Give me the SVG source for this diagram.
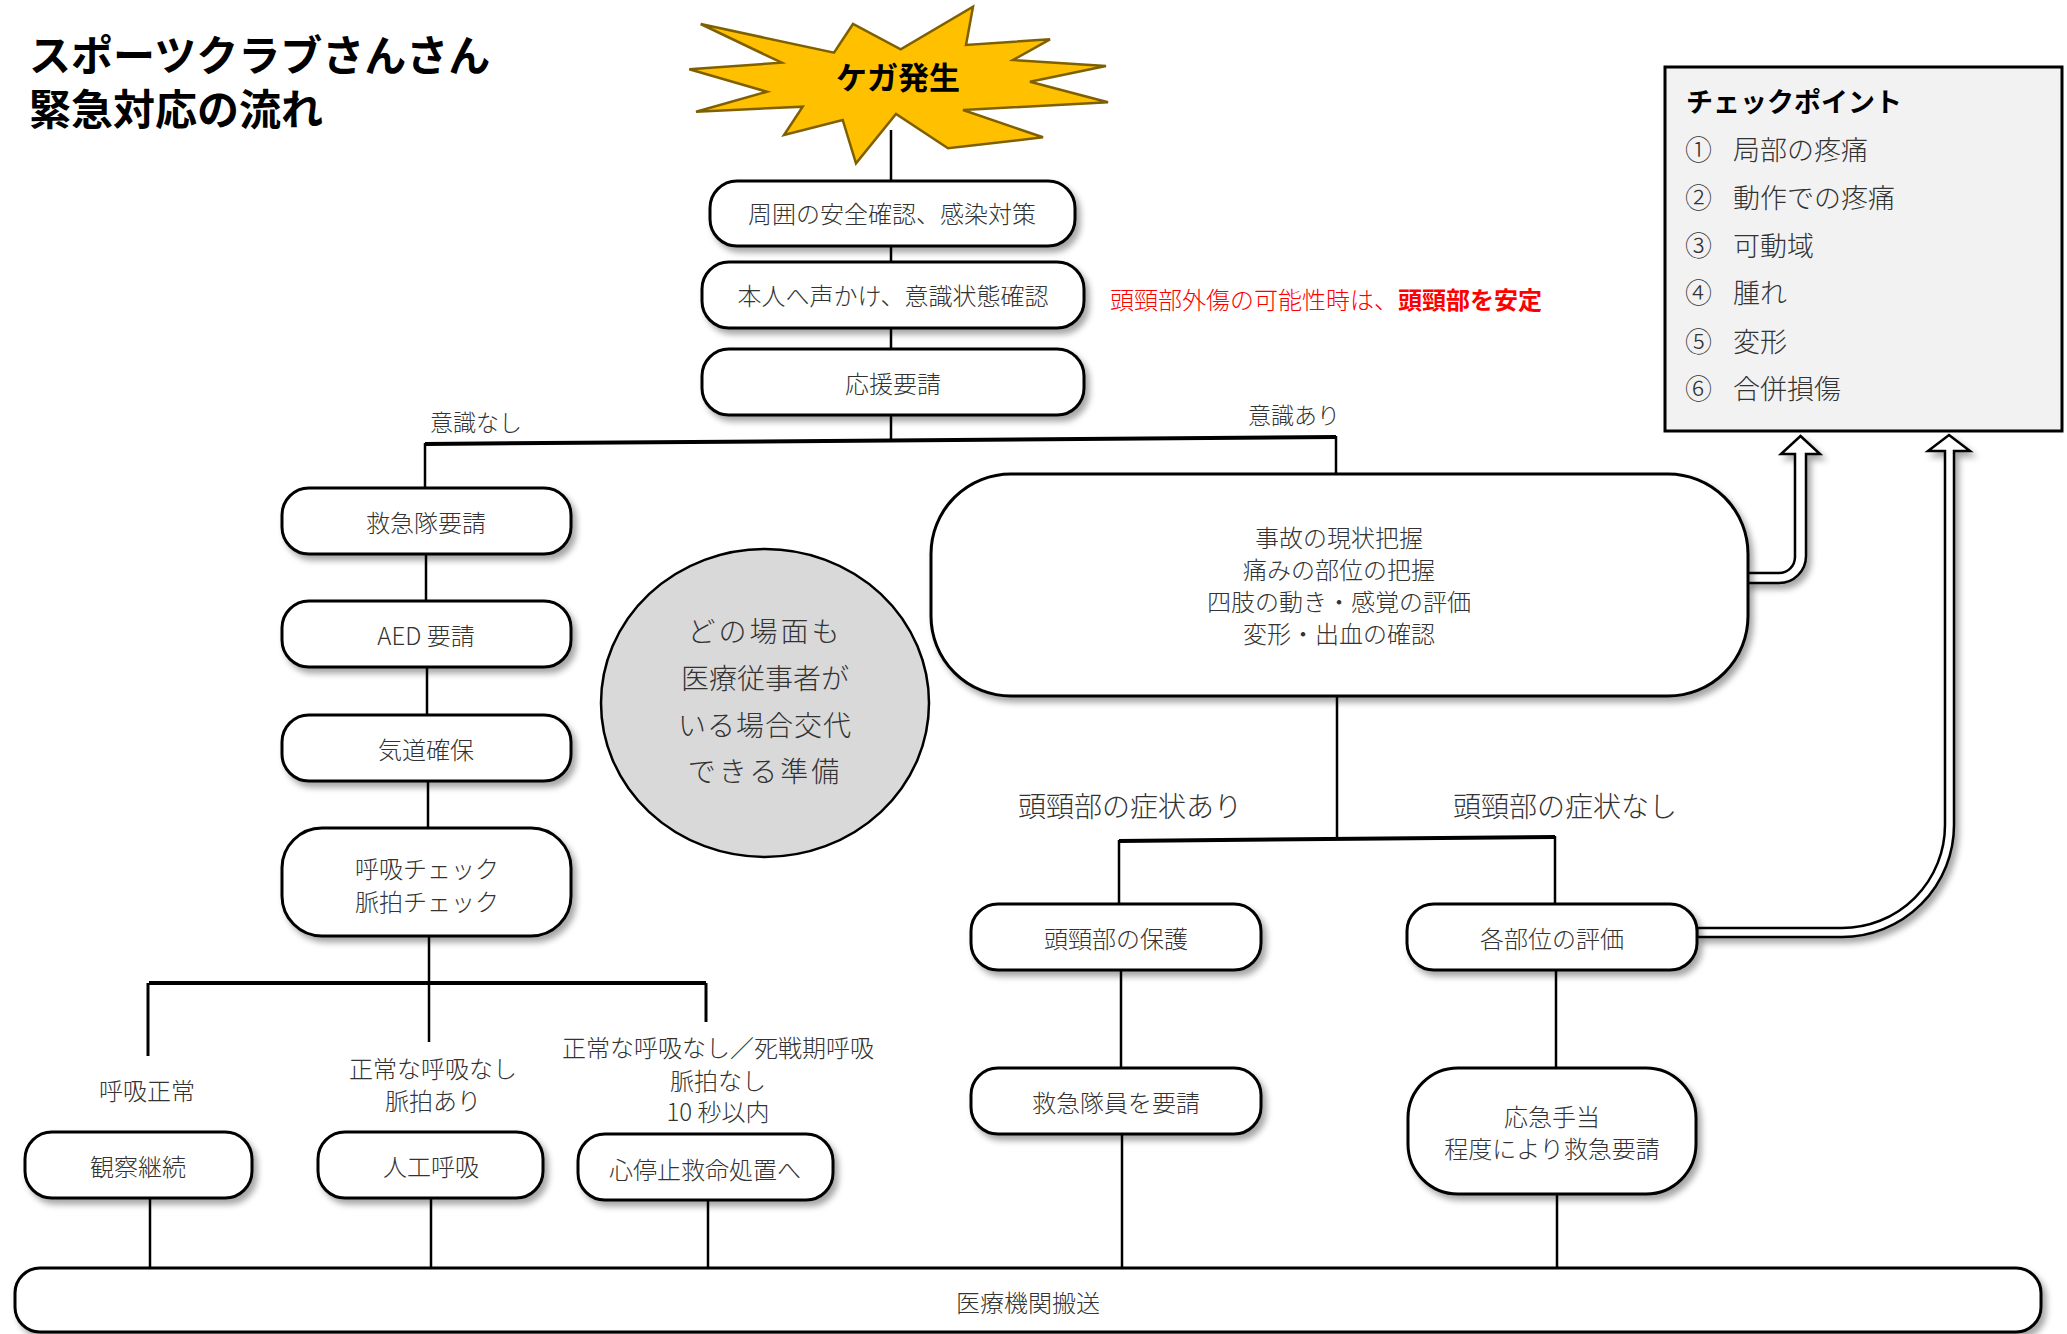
<svg xmlns="http://www.w3.org/2000/svg" width="2067" height="1334" viewBox="0 0 2067 1334">
<defs>
<filter id="sh" x="-10%" y="-20%" width="125%" height="150%">
<feDropShadow dx="4" dy="5" stdDeviation="3" flood-color="#000" flood-opacity="0.35"/>
</filter>
<style>
.box{fill:#fff;stroke:#000;stroke-width:3;filter:url(#sh)}
.t{font-family:"Noto Sans CJK JP","Noto Sans CJK SC",sans-serif;font-size:24px;font-weight:300;fill:#333;text-anchor:middle;dominant-baseline:central}
.lbl{font-family:"Noto Sans CJK JP","Noto Sans CJK SC",sans-serif;font-size:23px;font-weight:300;fill:#333;text-anchor:middle;dominant-baseline:central}
.big{font-size:28px}
.conn line{stroke:#000;stroke-width:2.5}
.conn line.thick{stroke-width:4}
.arrow{fill:#fff;stroke:#000;stroke-width:2.5;stroke-linejoin:miter;filter:url(#sh)}
</style>
</defs>
<rect width="2067" height="1334" fill="#fff"/>

<g id="title">
<text style="font-family:'Noto Sans CJK JP',sans-serif;font-size:42px;font-weight:bold;fill:#000;dominant-baseline:central"><tspan x="29" y="52">スポーツクラブさんさん</tspan><tspan x="29" y="106">緊急対応の流れ</tspan></text>
</g>

<g id="connectors" class="conn">
<line x1="891" y1="130" x2="891" y2="181"/>
<line x1="891" y1="246" x2="891" y2="262"/>
<line x1="891" y1="328" x2="891" y2="349"/>
<line x1="891" y1="415" x2="891" y2="441"/>
<line x1="425" y1="444" x2="1336" y2="437" class="thick"/>
<line x1="425" y1="443" x2="425" y2="488"/>
<line x1="1336" y1="436" x2="1336" y2="474"/>
<line x1="426" y1="554" x2="426" y2="601"/>
<line x1="427" y1="667" x2="427" y2="715"/>
<line x1="428" y1="781" x2="428" y2="828"/>
<line x1="429" y1="936" x2="429" y2="1042"/>
<line x1="149" y1="983" x2="706" y2="983" class="thick"/>
<line x1="148" y1="983" x2="148" y2="1056" class="thick" style="stroke-width:3"/>
<line x1="706" y1="983" x2="706" y2="1022" class="thick" style="stroke-width:3"/>
<line x1="150" y1="1198" x2="150" y2="1268"/>
<line x1="431" y1="1198" x2="431" y2="1268"/>
<line x1="708" y1="1200" x2="708" y2="1268"/>
<line x1="1337" y1="696" x2="1337" y2="840"/>
<line x1="1119" y1="841" x2="1555" y2="837" class="thick"/>
<line x1="1119" y1="840" x2="1119" y2="904"/>
<line x1="1555" y1="836" x2="1555" y2="904"/>
<line x1="1121" y1="970" x2="1121" y2="1068"/>
<line x1="1122" y1="1134" x2="1122" y2="1268"/>
<line x1="1556" y1="970" x2="1556" y2="1068"/>
<line x1="1557" y1="1194" x2="1557" y2="1268"/>
<path class="arrow" d="M1800.5,436 L1820,454 L1806,454 L1806,556 A27,27 0 0 1 1779,583 L1747,583 L1747,573 L1779,573 A16,16 0 0 0 1795,557 L1795,454 L1781,454 Z"/>
<path class="arrow" d="M1949,435 L1970,451 L1954,451 L1954,825 A112,112 0 0 1 1842,937 L1697,937 L1697,928 L1842,928 A103,103 0 0 0 1945,825 L1945,451 L1928,451 Z"/>
</g>

<g id="injury">
<polygon points="700.7,24 834,52.7 853,24 900.7,49.3 973,6.7 966,45 1050,39.3 1013,60 1106,66 1030,81.7 1108,102.3 963,110 1043,137.3 948,148.3 896,114 856,163.3 842.7,120 784,135 802.7,106.7 696,111.7 767,91.7 689.3,69.3 781.7,62.7" fill="#FFC000" stroke="#7F6000" stroke-width="2.5"/>
<text x="898" y="75" style="font-family:'Noto Sans CJK JP',sans-serif;font-size:31px;font-weight:bold;fill:#000;text-anchor:middle;dominant-baseline:central">ケガ発生</text>
</g>

<g id="safety">
<rect class="box" x="710" y="181" width="365" height="65" rx="27"/>
<text class="t" x="892" y="212">周囲の安全確認、感染対策</text>
</g>
<g id="call-out">
<rect class="box" x="702" y="262" width="382" height="66" rx="27"/>
<text class="t" x="893" y="294">本人へ声かけ、意識状態確認</text>
</g>
<g id="note-red">
<text x="1110" y="298" style="font-family:'Noto Sans CJK JP',sans-serif;font-size:24px;font-weight:300;fill:#FF0000;dominant-baseline:central">頭頸部外傷の可能性時は、<tspan font-weight="bold">頭頸部を安定</tspan></text>
</g>
<g id="support">
<rect class="box" x="702" y="349" width="382" height="66" rx="27"/>
<text class="t" x="893" y="382">応援要請</text>
</g>

<g id="label-no-conscious"><text class="lbl" x="476" y="421">意識なし</text></g>
<g id="label-conscious"><text class="lbl" x="1294" y="414">意識あり</text></g>

<g id="checkpoint">
<rect x="1665" y="67" width="397" height="364" fill="#f2f2f2" stroke="#000" stroke-width="3"/>
<text x="1686" y="100" style="font-family:'Noto Sans CJK JP',sans-serif;font-size:27px;font-weight:bold;fill:#000;dominant-baseline:central">チェックポイント</text>
<g style="font-family:'Noto Sans CJK JP',sans-serif;font-size:27px;font-weight:300;fill:#333;dominant-baseline:central">
<text y="148"><tspan x="1685">①</tspan><tspan x="1733">局部の疼痛</tspan></text>
<text y="196"><tspan x="1685">②</tspan><tspan x="1733">動作での疼痛</tspan></text>
<text y="244"><tspan x="1685">③</tspan><tspan x="1733">可動域</tspan></text>
<text y="291"><tspan x="1685">④</tspan><tspan x="1733">腫れ</tspan></text>
<text y="340"><tspan x="1685">⑤</tspan><tspan x="1733">変形</tspan></text>
<text y="387"><tspan x="1685">⑥</tspan><tspan x="1733">合併損傷</tspan></text>
</g>
</g>

<g id="assess">
<rect class="box" x="931" y="474" width="817" height="222" rx="80"/>
<text class="t" x="1339" y="536">事故の現状把握</text>
<text class="t" x="1339" y="568">痛みの部位の把握</text>
<text class="t" x="1339" y="600">四肢の動き・感覚の評価</text>
<text class="t" x="1339" y="632">変形・出血の確認</text>
</g>

<g id="medical-staff">
<ellipse cx="765" cy="703" rx="164" ry="154" fill="#d9d9d9" stroke="#000" stroke-width="2.5"/>
<text class="t big" x="765" y="630" letter-spacing="3">どの場面も</text>
<text class="t big" x="765" y="677">医療従事者が</text>
<text class="t big" x="765" y="724" letter-spacing="1">いる場合交代</text>
<text class="t big" x="765" y="770" letter-spacing="3">できる準備</text>
</g>

<g id="ambulance">
<rect class="box" x="282" y="488" width="289" height="66" rx="27"/>
<text class="t" x="426" y="521">救急隊要請</text>
</g>
<g id="aed">
<rect class="box" x="282" y="601" width="289" height="66" rx="27"/>
<text class="t" x="426" y="634">AED 要請</text>
</g>
<g id="airway">
<rect class="box" x="282" y="715" width="289" height="66" rx="27"/>
<text class="t" x="426" y="748">気道確保</text>
</g>
<g id="check-breath">
<rect class="box" x="282" y="828" width="289" height="108" rx="40"/>
<text class="t" x="427" y="867">呼吸チェック</text>
<text class="t" x="427" y="900">脈拍チェック</text>
</g>

<g id="label-normal"><text class="t" x="147" y="1089">呼吸正常</text></g>
<g id="label-pulse"><text class="t" x="433" y="1067">正常な呼吸なし</text><text class="t" x="433" y="1099">脈拍あり</text></g>
<g id="label-nopulse"><text class="t" x="718" y="1046">正常な呼吸なし／死戦期呼吸</text><text class="t" x="718" y="1079">脈拍なし</text><text class="t" x="718" y="1110">10 秒以内</text></g>

<g id="observe">
<rect class="box" x="25" y="1132" width="227" height="66" rx="27"/>
<text class="t" x="138" y="1165">観察継続</text>
</g>
<g id="rescue-breath">
<rect class="box" x="318" y="1132" width="225" height="66" rx="27"/>
<text class="t" x="431" y="1165">人工呼吸</text>
</g>
<g id="cpr">
<rect class="box" x="578" y="1134" width="255" height="66" rx="27"/>
<text class="t" x="705" y="1168">心停止救命処置へ</text>
</g>

<g id="label-head-yes"><text class="t big" x="1130" y="805">頭頸部の症状あり</text></g>
<g id="label-head-no"><text class="t big" x="1565" y="805">頭頸部の症状なし</text></g>

<g id="protect-head">
<rect class="box" x="971" y="904" width="290" height="66" rx="27"/>
<text class="t" x="1116" y="937">頭頸部の保護</text>
</g>
<g id="evaluate-parts">
<rect class="box" x="1407" y="904" width="290" height="66" rx="27"/>
<text class="t" x="1552" y="937">各部位の評価</text>
</g>
<g id="call-ambulance">
<rect class="box" x="971" y="1068" width="290" height="66" rx="27"/>
<text class="t" x="1116" y="1101">救急隊員を要請</text>
</g>
<g id="first-aid">
<rect class="box" x="1408" y="1068" width="288" height="126" rx="50"/>
<text class="t" x="1552" y="1115">応急手当</text>
<text class="t" x="1552" y="1147">程度により救急要請</text>
</g>

<g id="transport">
<rect class="box" x="15" y="1268" width="2026" height="64" rx="25"/>
<text class="t" x="1028" y="1301">医療機関搬送</text>
</g>
</svg>
